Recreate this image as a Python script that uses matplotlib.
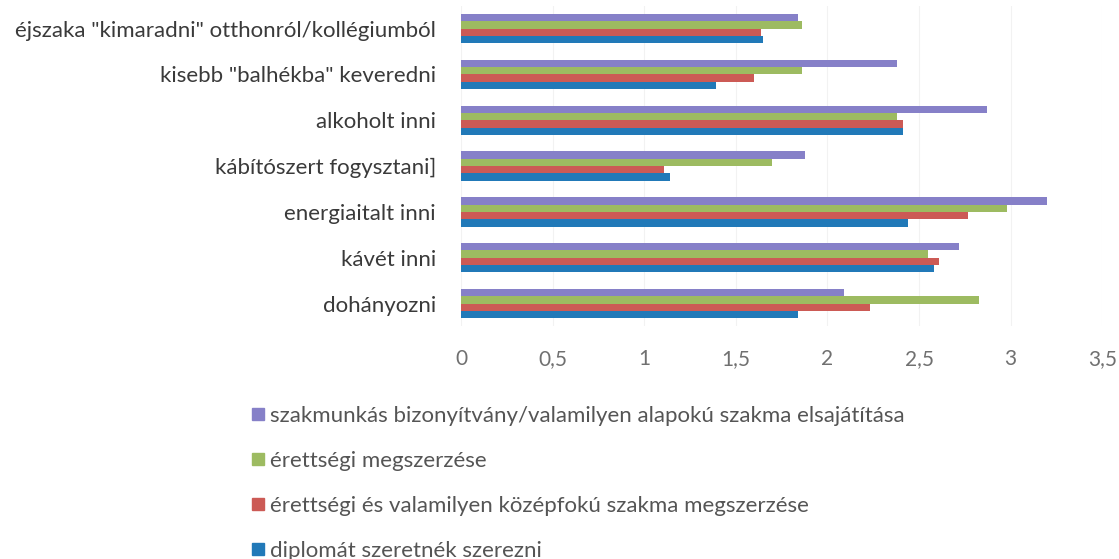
import matplotlib.pyplot as plt
from matplotlib.lines import Line2D
import numpy as np

categories = ['éjszaka "kimaradni" otthonról/kollégiumból',
              'kisebb "balhékba" keveredni',
              'alkoholt inni',
              'kábítószert fogysztani]',
              'energiaitalt inni',
              'kávét inni',
              'dohányozni']

series_names = ['szakmunkás bizonyítvány/valamilyen alapokú szakma elsajátítása',
                'érettségi megszerzése',
                'érettségi és valamilyen középfokú szakma megszerzése',
                'diplomát szeretnék szerezni']

szakmunkas = [1.84, 2.38, 2.87, 1.88, 3.20, 2.72, 2.09]
erettsegi = [1.86, 1.86, 2.38, 1.70, 2.98, 2.55, 2.83]
erettsegi_szakma = [1.64, 1.60, 2.41, 1.11, 2.77, 2.61, 2.23]
diploma = [1.65, 1.39, 2.41, 1.14, 2.44, 2.58, 1.84]

xticks = [0, 0.5, 1, 1.5, 2, 2.5, 3, 3.5]
xtick_labels = ['0', '0,5', '1', '1,5', '2', '2,5', '3', '3,5']

colors = ['#8680c8', '#9dbb61', '#cc5a55', '#2179b8']

plt.rcParams['font.family'] = ['Lato', 'DejaVu Sans']

fig = plt.figure(figsize=(11.19, 5.59), dpi=100)
ax = fig.add_axes([0.412, 0.416, 0.573, 0.574])

y = np.arange(len(categories))
h = 0.16
all_series = [szakmunkas, erettsegi, erettsegi_szakma, diploma]
for i, vals in enumerate(all_series):
    ax.barh(y + (i - 1.5) * h, vals, height=h, color=colors[i], zorder=2)

ax.set_xlim(0, 3.5)
ax.set_ylim(len(categories) - 0.5, -0.5)
ax.set_yticks(y)
ax.set_yticklabels(categories, fontsize=16, color='#3a3a3a')
ax.set_xticks(xticks)
ax.set_xticklabels(xtick_labels, fontsize=15, color='#707070')
ax.tick_params(axis='y', length=0, pad=18)
ax.tick_params(axis='x', length=0, pad=16)
ax.grid(axis='x', color='#f2f2f2', linewidth=0.8, zorder=0)
for s in ax.spines.values():
    s.set_visible(False)

handles = [Line2D([], [], marker='s', linestyle='none', markersize=9,
                  color=c) for c in colors]
fig.legend(handles, series_names, loc='upper left',
           bbox_to_anchor=(0.222, 0.274), frameon=False, fontsize=16,
           labelcolor='#555555', labelspacing=1.12, handletextpad=0.05,
           borderaxespad=0, borderpad=0, handlelength=0.9)

plt.savefig('out.png', dpi=100)
